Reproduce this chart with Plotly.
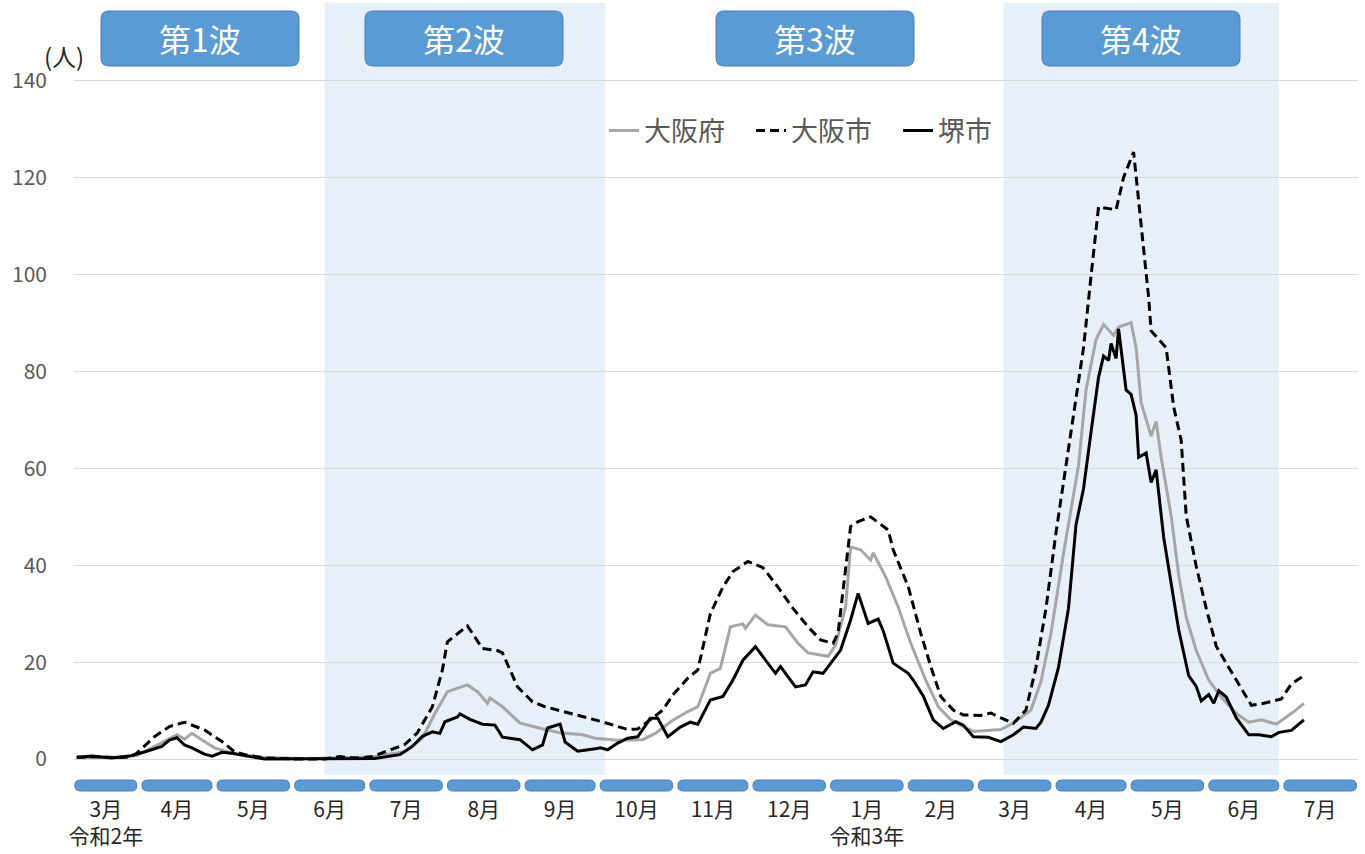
import pandas as pd
import plotly.graph_objects as go

# ---------------- data (7-day averages) ----------------
pref_dates = ["2020-03-07","2020-03-21","2020-03-31","2020-04-07","2020-04-13","2020-04-16","2020-04-19","2020-04-22","2020-04-27","2020-05-01",
              "2020-05-08","2020-05-21","2020-06-07","2020-07-03","2020-07-07","2020-07-16","2020-07-23","2020-07-28","2020-08-02","2020-08-10",
              "2020-08-14","2020-08-18","2020-08-19","2020-08-24","2020-08-31","2020-09-05","2020-09-10","2020-09-16","2020-09-25","2020-09-30",
              "2020-10-02","2020-10-09","2020-10-19","2020-10-24","2020-10-31","2020-11-06","2020-11-10","2020-11-15","2020-11-19",
              "2020-11-23","2020-11-28","2020-11-29","2020-12-03","2020-12-08","2020-12-15","2020-12-20","2020-12-24","2021-01-01","2021-01-04",
              "2021-01-08","2021-01-10","2021-01-14","2021-01-18","2021-01-19","2021-01-24","2021-01-29","2021-02-03","2021-02-09","2021-02-14",
              "2021-02-19","2021-02-24","2021-02-28","2021-03-11","2021-03-16","2021-03-23","2021-03-27","2021-03-31","2021-04-05","2021-04-11",
              "2021-04-14","2021-04-18","2021-04-21","2021-04-25","2021-04-27","2021-05-02","2021-05-04","2021-05-06","2021-05-10","2021-05-12",
              "2021-05-14","2021-05-18","2021-05-21","2021-05-24","2021-05-28","2021-06-02","2021-06-07","2021-06-13","2021-06-18","2021-06-23",
              "2021-06-29","2021-07-06","2021-07-10"]
pref_vals = [0.3,0.3,0.7,2.6,4.3,5.0,4.1,5.3,3.6,2.3,
             1.2,0.3,0.1,0.4,0.8,1.5,4.3,9.4,13.9,15.3,
             13.9,11.5,12.6,10.8,7.4,6.7,6.1,5.4,5.0,4.3,
             4.2,3.9,4.0,5.3,8.0,9.8,10.8,17.7,18.7,
             27.3,27.9,27.0,29.7,27.7,27.3,23.9,21.9,21.2,23.5,
             31.4,43.8,43.2,41.1,42.6,37.6,31.4,23.9,16.3,10.8,
             8.1,6.7,5.7,6.1,7.4,10.1,16.0,25.9,42.4,60.6,
             76.2,86.6,89.7,87.5,89.2,90.1,84.9,73.6,66.7,69.7,
             62.3,50.2,38.0,29.3,22.4,16.3,12.8,9.4,7.6,8.1,
             7.2,9.8,11.5]

city_dates = ["2020-03-07","2020-03-16","2020-03-22","2020-03-28","2020-03-31","2020-04-07","2020-04-13","2020-04-19","2020-04-27","2020-05-04",
              "2020-05-09","2020-05-14","2020-05-21","2020-06-03","2020-06-14","2020-06-20","2020-06-23","2020-06-28","2020-07-03","2020-07-08",
              "2020-07-16","2020-07-21","2020-07-27","2020-07-31","2020-08-02","2020-08-10","2020-08-16","2020-08-22","2020-08-24","2020-08-30",
              "2020-09-05","2020-09-10","2020-09-22","2020-10-02","2020-10-13","2020-10-17","2020-10-22","2020-10-27","2020-10-31",
              "2020-11-06","2020-11-10","2020-11-15","2020-11-20","2020-11-24","2020-11-30","2020-12-06","2020-12-12","2020-12-18","2020-12-24",
              "2020-12-29","2021-01-03","2021-01-05","2021-01-07","2021-01-10","2021-01-13","2021-01-18","2021-01-25","2021-01-27","2021-02-02",
              "2021-02-07","2021-02-11","2021-02-15","2021-02-20","2021-02-24","2021-03-03","2021-03-07","2021-03-11","2021-03-16","2021-03-21",
              "2021-03-25","2021-03-29","2021-04-02","2021-04-06","2021-04-09","2021-04-13","2021-04-16","2021-04-19","2021-04-26","2021-04-29",
              "2021-05-03","2021-05-06","2021-05-09","2021-05-10","2021-05-16","2021-05-19","2021-05-22","2021-05-24","2021-05-28","2021-06-01",
              "2021-06-05","2021-06-10","2021-06-14","2021-06-19","2021-06-24","2021-07-01","2021-07-05","2021-07-10"]
city_vals = [0.4,0.5,0.3,0.4,1.2,4.6,6.7,7.6,6.0,3.6,
             1.5,0.8,0.2,0.0,0.0,0.5,0.3,0.2,0.5,1.4,
             3.0,5.4,10.8,18.4,24.2,27.5,22.8,22.4,21.9,14.9,
             11.8,10.8,9.2,7.8,6.1,6.2,8.1,10.1,13.2,
             16.7,18.4,30.0,35.5,38.7,40.8,39.5,35.5,31.1,27.3,
             24.6,23.9,26.0,34.9,48.0,49.0,50.0,47.3,43.2,35.6,
             26.0,19.1,12.9,10.1,9.1,9.0,9.5,8.5,7.4,10.1,
             18.9,31.1,46.7,60.6,71.0,84.9,99.7,114.0,113.4,120.1,
             125.3,110.9,95.3,88.4,84.9,72.7,65.8,50.2,39.8,31.1,
             23.3,18.9,15.5,11.1,11.5,12.4,15.5,17.2]

sakai_dates = ["2020-03-07","2020-03-13","2020-03-21","2020-03-28","2020-04-04","2020-04-10","2020-04-13","2020-04-16","2020-04-19","2020-04-22",
               "2020-04-27","2020-04-30","2020-05-04","2020-05-08","2020-05-14","2020-05-21","2020-07-04","2020-07-14","2020-07-19","2020-07-23",
               "2020-07-27","2020-07-30","2020-08-01","2020-08-06","2020-08-07","2020-08-11","2020-08-16","2020-08-21","2020-08-24","2020-08-31",
               "2020-09-05","2020-09-09","2020-09-11","2020-09-16","2020-09-18","2020-09-23","2020-09-30","2020-10-02",
               "2020-10-05","2020-10-09","2020-10-13","2020-10-17","2020-10-22","2020-10-25","2020-10-29","2020-11-03","2020-11-07","2020-11-10",
               "2020-11-15","2020-11-20","2020-11-24","2020-11-28","2020-12-03","2020-12-06","2020-12-11","2020-12-13","2020-12-19","2020-12-23",
               "2020-12-26","2020-12-30","2021-01-02","2021-01-06","2021-01-10","2021-01-13","2021-01-15","2021-01-17","2021-01-21","2021-01-23",
               "2021-01-27","2021-02-02","2021-02-04","2021-02-08","2021-02-12","2021-02-16","2021-02-21","2021-02-24","2021-02-28","2021-03-06",
               "2021-03-11","2021-03-16","2021-03-20","2021-03-25","2021-03-27","2021-03-30","2021-04-03","2021-04-07","2021-04-10","2021-04-13",
               "2021-04-16","2021-04-19","2021-04-21","2021-04-23","2021-04-24","2021-04-26","2021-04-27","2021-04-30","2021-05-02","2021-05-04",
               "2021-05-05","2021-05-08","2021-05-10","2021-05-12","2021-05-15","2021-05-18","2021-05-21","2021-05-25","2021-05-28","2021-05-30",
               "2021-06-02","2021-06-04","2021-06-06","2021-06-09","2021-06-13","2021-06-18","2021-06-22","2021-06-27","2021-06-30","2021-07-05",
               "2021-07-10"]
sakai_vals = [0.3,0.6,0.2,0.6,1.6,2.6,3.9,4.4,2.9,2.3,
              1.0,0.6,1.4,1.2,0.6,0.0,0.1,0.9,2.6,4.7,
              5.6,5.3,7.7,8.7,9.3,8.2,7.2,7.0,4.5,4.0,
              1.9,2.9,6.4,7.2,3.5,1.6,2.1,2.3,
              1.9,3.3,4.3,4.6,8.4,8.4,4.6,6.6,7.6,7.2,
              12.2,12.9,16.3,20.4,23.2,21.1,17.7,19.1,14.9,15.3,
              18.0,17.7,19.8,22.5,28.7,34.2,31.1,28.0,28.9,26.5,
              19.8,17.7,16.3,13.0,8.1,6.3,7.7,7.0,4.6,4.5,
              3.6,5.0,6.6,6.3,7.6,11.1,18.9,31.1,48.4,55.8,
              67.5,78.8,83.2,82.3,85.8,82.7,88.8,76.2,75.3,71.0,
              62.3,63.2,57.1,59.7,45.8,36.3,26.7,17.2,15.0,12.0,
              13.3,11.5,14.1,12.8,8.5,5.0,5.0,4.6,5.5,5.9,
              8.1]

assert len(pref_dates) == len(pref_vals)
assert len(city_dates) == len(city_vals)
assert len(sakai_dates) == len(sakai_vals)

series_names = ["大阪府", "大阪市", "堺市"]

month_starts = ["2020-03-01","2020-04-01","2020-05-01","2020-06-01","2020-07-01","2020-08-01","2020-09-01","2020-10-01","2020-11-01",
                "2020-12-01","2021-01-01","2021-02-01","2021-03-01","2021-04-01","2021-05-01","2021-06-01","2021-07-01","2021-08-01"]
month_labels = ["3月<br>令和2年","4月","5月","6月","7月","8月","9月","10月","11月","12月",
                "1月<br>令和3年","2月","3月","4月","5月","6月","7月"]

wave_labels = ["第1波", "第2波", "第3波", "第4波"]
wave_shade = [("2020-06-14", "2020-10-04"), ("2021-03-12", "2021-06-30")]

x_start, x_end = "2020-03-07", "2021-08-01"

# ---------------- helpers ----------------
BASE = pd.Timestamp("2020-03-01")

def day(d):
    return (pd.Timestamp(d) - BASE).days

def days(ds):
    return [day(d) for d in ds]

W, H = 1365, 854
ML, MR, MT, MB = 74, 7, 3, 79
PW, PH = W - ML - MR, H - MT - MB

def px_x(p):
    return (p - ML) / PW

def px_y(p):
    return 1 - (p - MT) / PH

def rounded(x0, x1, y0, y1, rx, ry):
    # y0 = top, y1 = bottom
    return (f"M {x0+rx},{y0} L {x1-rx},{y0} Q {x1},{y0} {x1},{y0-ry} "
            f"L {x1},{y1+ry} Q {x1},{y1} {x1-rx},{y1} L {x0+rx},{y1} "
            f"Q {x0},{y1} {x0},{y1+ry} L {x0},{y0-ry} Q {x0},{y0} {x0+rx},{y0} Z")

BLUE = "#5B9BD5"
BLUE_LINE = "#4A7EBB"
FONT = "Noto Sans CJK JP"

fig = go.Figure()

fig.add_trace(go.Scatter(x=days(pref_dates), y=pref_vals, name=series_names[0], mode="lines",
                         line=dict(color="#A6A6A6", width=3)))
fig.add_trace(go.Scatter(x=days(city_dates), y=city_vals, name=series_names[1], mode="lines",
                         line=dict(color="#000000", width=3, dash="9px,5px")))
fig.add_trace(go.Scatter(x=days(sakai_dates), y=sakai_vals, name=series_names[2], mode="lines",
                         line=dict(color="#000000", width=3)))

shapes = []
for a, b in wave_shade:
    shapes.append(dict(type="rect", xref="x", yref="paper", x0=day(a), x1=day(b), y0=0, y1=1,
                       fillcolor="#E7EFF9", line=dict(width=0), layer="below"))

x0_axis, x1_axis = day(x_start) - 1.1, day(x_end) - 0.4
yt, yb = px_y(780), px_y(791)
ry = (yt - yb) / 2
rx = 5.5 / (PW / (x1_axis - x0_axis))
tickvals = []
for i in range(len(month_labels)):
    s = day(month_starts[i]) + 1.0
    e = day(month_starts[i + 1]) - 1.0
    s = max(s, x0_axis + 0.3)
    e = min(e, x1_axis - 0.3)
    tickvals.append((s + e) / 2)
    shapes.append(dict(type="path", xref="x", yref="paper", path=rounded(s, e, yt, yb, rx, ry),
                       fillcolor=BLUE, line=dict(color=BLUE_LINE, width=1), layer="above"))

wave_box_px = [(101, 299), (365, 563), (716, 914), (1042, 1240)]
annotations = []
bt, bb = px_y(11), px_y(66)
for (a, b), lab in zip(wave_box_px, wave_labels):
    shapes.append(dict(type="path", xref="paper", yref="paper",
                       path=rounded(px_x(a), px_x(b), bt, bb, 8 / PW, 8 / PH),
                       fillcolor=BLUE, line=dict(color=BLUE_LINE, width=1), layer="above"))
    annotations.append(dict(xref="paper", yref="paper", x=px_x((a + b) / 2), y=(bt + bb) / 2,
                            text=lab, showarrow=False, xanchor="center", yanchor="middle",
                            font=dict(family=FONT, size=32, color="white")))

annotations.append(dict(xref="paper", yref="paper", x=px_x(64), y=px_y(55), text="(人)",
                        showarrow=False, xanchor="center", yanchor="middle",
                        font=dict(family=FONT, size=24, color="#262626")))

fig.update_layout(
    width=W, height=H,
    margin=dict(l=ML, r=MR, t=MT, b=MB, pad=0),
    paper_bgcolor="white", plot_bgcolor="rgba(0,0,0,0)",
    font=dict(family=FONT, color="#595959"),
    shapes=shapes, annotations=annotations,
    showlegend=True,
    legend=dict(orientation="h", x=px_x(604), y=px_y(131), xanchor="left", yanchor="middle",
                font=dict(family=FONT, size=27, color="#595959"), bgcolor="rgba(0,0,0,0)",
                entrywidth=102, entrywidthmode="pixels", itemwidth=30),
    xaxis=dict(range=[x0_axis, x1_axis], showgrid=False, zeroline=False, showline=False,
               tickmode="array", tickvals=tickvals, ticktext=month_labels, ticks="",
               tickfont=dict(family=FONT, size=21, color="#262626"), ticklabelstandoff=20),
    yaxis=dict(range=[-3.3, 156.1], tickmode="array", tickvals=list(range(0, 141, 20)),
               showgrid=True, gridcolor="#D9D9D9", gridwidth=1, zeroline=False, showline=False,
               ticks="", tickfont=dict(family=FONT, size=21, color="#595959"), ticklabelstandoff=26),
)

fig.write_html("out.html", config={"displayModeBar": False},
               post_script="document.body.style.margin='0';document.body.style.overflow='hidden';")
